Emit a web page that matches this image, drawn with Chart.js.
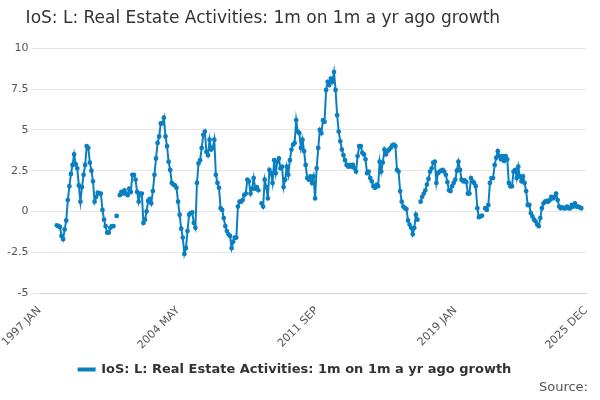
<!DOCTYPE html>
<html>
<head>
<meta charset="utf-8">
<script src="https://cdn.jsdelivr.net/npm/chart.js@4.4.1/dist/chart.umd.min.js"></script>
<style>
  body { margin: 0; background: #fff; }
  #wrap { position: relative; width: 600px; height: 400px; }
  #source { position: absolute; right: 12px; bottom: 6px; font: 13px "DejaVu Sans", sans-serif; color: #555; }
</style>
</head>
<body>
<div id="wrap">
  <canvas id="chart" width="600" height="400"></canvas>
  <div id="source">Source:</div>
</div>
<script>
const seriesName = 'IoS: L: Real Estate Activities: 1m on 1m a yr ago growth';
const tickLabels = ['1997 JAN', '2004 MAY', '2011 SEP', '2019 JAN', '2025 DEC'];
const monthNames = ['JAN','FEB','MAR','APR','MAY','JUN','JUL','AUG','SEP','OCT','NOV','DEC'];

// monthly values, 1997 JAN .. 2025 DEC, null = no data
const seg1997 = [null,null,null,null,null,null,null,null,null,null,null,
  -0.85,-0.9,-0.95,-1.5,-1.7,-1.1,-0.55,0.7,1.55,2.3,2.85,3.5,2.9,2.65,1.6,0.6,1.5,2.25,2.85,4.0,3.9,3.0,2.5,1.85,0.6,0.9,1.15,1.1,1.1,0.1,-0.5,-0.9,-1.3,-1.3,-1.0,-0.9,-0.9,
  null,-0.27,null];
const seg2001 = [1.0,1.2,1.1,1.3,1.1,1.0,1.4,1.2,2.25,2.25,1.95,1.2,0.6,1.1,1.1,
  -0.7,-0.5,0,0.65,0.78,0.5,1.25,2.25,3.25,4.2,4.6,5.4,5.4,5.75,4.6,4.0,3.05,2.55,1.75,1.65,1.6,1.45,0.6,-0.2,-1.05,-1.6,-2.6,-2.25,-1.2,-0.2,-0.1,-0.05,-0.7,-1.0,
  1.75,2.95,3.15,3.9,4.7,4.9,3.65,3.45,4.4,3.8,3.9,4.4,2.25,1.75,1.45,0.2,0.1,-0.4,-0.9,-1.2,-1.4,-1.5,-2.25,-1.85,-1.6,-1.6,0.3,0.6];
const seg2007 = [0.6,0.7,1.0,1.1,1.95,1.85,1.1,1.4,2.05,1.4,1.5,1.3,null,
  0.5,0.3,1.95,1.5,0.8,2.55,2.35,1.75,3.15,2.35,3.05,3.25,2.65,2.75,1.5,1.95,2.75,2.25,3.15,3.8,4.1,4.2,5.6,4.9,4.8,3.9,4.4,3.7,2.85,2.05,1.95,2.15,1.75,2.15,0.8,2.65,3.9,5.0,4.8,5.6,5.5,7.45,7.95,7.75,8.15,7.95,8.55,7.45,5.9,4.9,4.3,3.8,3.45,3.15,2.85,2.75];
const seg2013 = [2.85,2.75,2.85,2.65,2.45,3.4,4.0,4.0,3.6,3.5,3.2,2.35,2.45,2.05,1.85,1.55,1.45,1.65,1.55,3.05,2.45,3.0,3.8,3.5,3.7,3.8,3.9,4.05,4.1,4.0,2.55,2.45,1.25,0.6,0.3,0.2,0.15,-0.55,-0.8,-1.0,-1.4,-1.0,-0.2,-0.5,
  null,
  0.6,0.9,1.1,1.3,1.65,2.0,2.45,2.65,3.0,3.05,1.75,2.35,2.45,2.5,2.55,2.45,2.25,1.8,1.3,1.25,1.55,1.75,1.95,2.5,3.05,2.55,1.95,1.85,1.9,1.8,1.1];
const seg2019 = [1.1,2.05,1.85,1.75,1.55,0.2,-0.35,-0.3,-0.25,null,
  0.2,0.1,0.4,1.75,2.05,2.05,2.85,3.3,3.7,3.4,3.2,3.4,3.1,3.4,3.2,1.75,1.55,1.55,2.45,2.55,2.05,2.75,2.15,1.85,2.15,1.75,1.25,0.4,0.4,-0.1,-0.3,-0.5,-0.6,-0.8,-0.9,-0.4,0.2,0.5,0.6,0.65,0.6,0.7,0.9,0.8,0.9,1.1,0.7,0.3,0.2,0.25,0.2,0.2,0.3,0.2,0.2,0.4,0.3,0.5,0.3,0.3,0.25,0.2];

const values = [].concat(seg1997, seg2001, seg2007, seg2013, seg2019).slice(0, 348);
const labels = [];
for (let i = 0; i < 348; i++) {
    labels.push((1997 + Math.floor(i / 12)) + ' ' + monthNames[i % 12]);
}

new Chart(document.getElementById('chart'), {
    type: 'line',
    data: {
        labels: labels,
        datasets: [{
            label: seriesName,
            data: values,
            borderColor: '#0a7fc2',
            backgroundColor: '#0a7fc2',
            borderWidth: 2,
            pointRadius: 1.4,
            pointHoverRadius: 3,
            spanGaps: false,
            tension: 0
        }]
    },
    options: {
        responsive: false,
        animation: false,
        layout: { padding: { left: 4, right: 14, top: 0, bottom: 14 } },
        plugins: {
            title: {
                display: true,
                text: '    ' + seriesName,
                align: 'start',
                color: '#333',
                font: { family: 'DejaVu Sans', size: 17, weight: 'normal' },
                padding: { top: 8, bottom: 20 }
            },
            legend: {
                position: 'bottom',
                labels: {
                    color: '#333',
                    font: { family: 'DejaVu Sans', size: 13, weight: 'bold' },
                    boxWidth: 16, boxHeight: 2,
                    padding: 8
                }
            }
        },
        scales: {
            x: {
                grid: { display: false },
                border: { color: '#ccd6eb' },
                ticks: {
                    autoSkip: false,
                    maxRotation: 45, minRotation: 45,
                    color: '#555',
                    font: { family: 'DejaVu Sans', size: 11 },
                    callback: function(v) {
                        const l = labels[v];
                        return tickLabels.includes(l) ? l : null;
                    }
                }
            },
            y: {
                min: -5, max: 10,
                ticks: { stepSize: 2.5, color: '#555', font: { family: 'DejaVu Sans', size: 11 } },
                grid: { color: '#e6e6e6' },
                border: { display: false }
            }
        }
    }
});
</script>
</body>
</html>
